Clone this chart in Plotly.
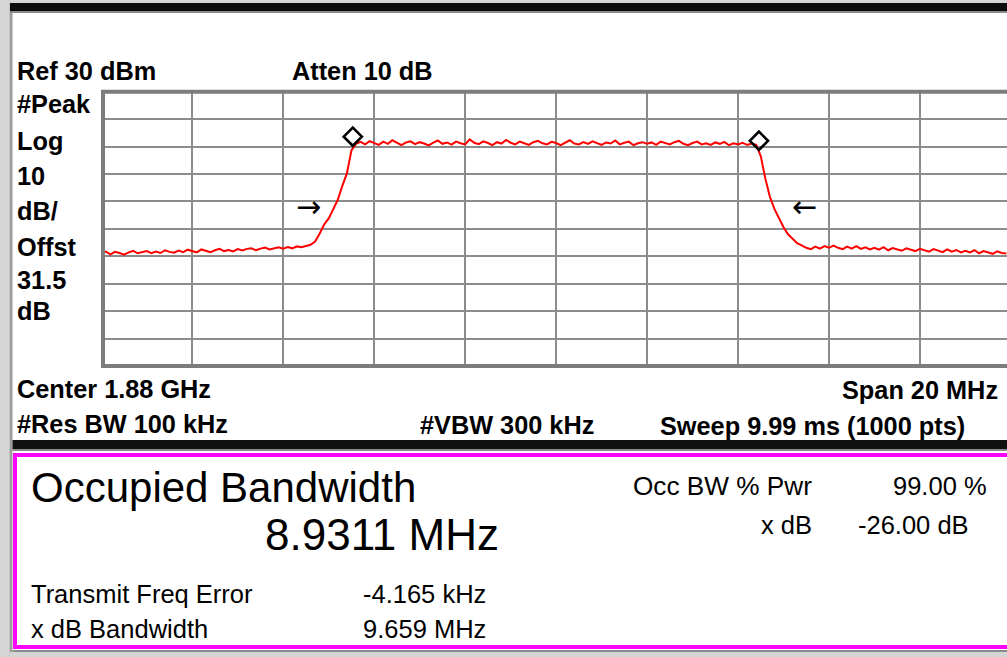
import plotly.graph_objects as go

W, H = 1007, 657

# ---------------- data (frequency offset from 1.88 GHz centre, MHz ; level dBm) ----------------
freq_mhz = [
    -10.0, -9.9, -9.8, -9.7, -9.6, -9.5, -9.4, -9.3, -9.2, -9.1,
    -9.0, -8.9, -8.8, -8.7, -8.6, -8.5, -8.4, -8.3, -8.2, -8.1,
    -8.0, -7.9, -7.8, -7.7, -7.6, -7.5, -7.4, -7.3, -7.2, -7.1,
    -7.0, -6.9, -6.8, -6.7, -6.6, -6.5, -6.4, -6.3, -6.2, -6.1,
    -6.0, -5.9, -5.8, -5.7, -5.6, -5.5, -5.4, -5.3, -5.2, -5.1,
    -5.0, -4.9, -4.8, -4.7, -4.6, -4.5, -4.4, -4.3, -4.2, -4.1,
    -4.0, -3.9, -3.8, -3.7, -3.6, -3.5, -3.4, -3.3, -3.2, -3.1,
    -3.0, -2.9, -2.8, -2.7, -2.6, -2.5, -2.4, -2.3, -2.2, -2.1,
    -2.0, -1.9, -1.8, -1.7, -1.6, -1.5, -1.4, -1.3, -1.2, -1.1,
    -1.0, -0.9, -0.8, -0.7, -0.6, -0.5, -0.4, -0.3, -0.2, -0.1,
    0.0, 0.1, 0.2, 0.3, 0.4, 0.5, 0.6, 0.7, 0.8, 0.9,
    1.0, 1.1, 1.2, 1.3, 1.4, 1.5, 1.6, 1.7, 1.8, 1.9,
    2.0, 2.1, 2.2, 2.3, 2.4, 2.5, 2.6, 2.7, 2.8, 2.9,
    3.0, 3.1, 3.2, 3.3, 3.4, 3.5, 3.6, 3.7, 3.8, 3.9,
    4.0, 4.1, 4.2, 4.3, 4.4, 4.5, 4.6, 4.7, 4.8, 4.9,
    5.0, 5.1, 5.2, 5.3, 5.4, 5.5, 5.6, 5.7, 5.8, 5.9,
    6.0, 6.1, 6.2, 6.3, 6.4, 6.5, 6.6, 6.7, 6.8, 6.9,
    7.0, 7.1, 7.2, 7.3, 7.4, 7.5, 7.6, 7.7, 7.8, 7.9,
    8.0, 8.1, 8.2, 8.3, 8.4, 8.5, 8.6, 8.7, 8.8, 8.9,
    9.0, 9.1, 9.2, 9.3, 9.4, 9.5, 9.6, 9.7, 9.8, 9.9,
]

level_dbm = [
    -28.9, -28.3, -29.3, -28.4, -28.8, -29.4, -28.6, -28.0, -28.9, -28.5,
    -28.1, -28.9, -28.3, -28.8, -27.8, -28.4, -28.7, -27.9, -28.5, -27.6,
    -28.2, -28.6, -27.5, -28.1, -28.5, -27.8, -27.3, -28.1, -27.7, -28.2,
    -27.4, -27.9, -27.3, -27.1, -27.8, -27.2, -26.8, -27.5, -27.0, -26.7,
    -27.2, -26.6, -27.1, -26.4, -26.7, -26.2, -25.8, -24.6, -21.8, -18.4,
    -16.2, -12.8, -9.4, -4.3, 0.2, 8.6, 11.0, 11.7, 10.8, 12.0,
    11.2, 10.6, 11.8, 11.0, 12.3, 11.3, 10.5, 11.5, 11.9, 10.9,
    11.6, 11.1, 10.4, 11.4, 12.2, 11.0, 11.5, 10.7, 11.8, 11.2,
    10.8, 12.6, 11.4, 10.9, 11.9, 11.3, 10.5, 11.6, 11.1, 12.4,
    11.4, 10.8, 11.8, 11.2, 10.6, 11.6, 12.1, 11.2, 10.8, 11.7,
    11.3, 10.5, 11.5, 12.3, 11.1, 10.8, 11.6, 11.0, 11.9, 11.3,
    10.6, 11.5, 11.1, 12.2, 10.8, 11.4, 11.8, 10.5, 11.2, 11.6,
    11.0, 11.5, 10.6, 11.8, 11.2, 10.8, 11.6, 12.1, 11.0, 10.5,
    11.3, 11.8, 10.8, 11.2, 10.6, 11.5, 11.0, 11.7, 10.5, 11.2,
    10.8, 11.4, 10.6, 11.1, 10.6, 6.5, -1.6, -8.3, -12.7, -16.2,
    -19.4, -22.0, -23.8, -25.2, -26.0, -26.9, -27.4, -26.5, -27.2, -26.3,
    -26.9, -26.1, -26.9, -27.4, -26.5, -27.2, -26.3, -27.3, -26.7, -27.5,
    -26.9, -27.6, -26.7, -27.8, -27.0, -27.4, -28.0, -27.1, -27.6, -28.1,
    -27.3, -27.8, -28.3, -27.4, -28.0, -28.5, -27.5, -28.3, -27.7, -28.6,
    -28.0, -28.6, -27.8, -28.9, -28.1, -28.6, -29.1, -28.2, -28.8, -29.0,
]

marker_freq = [-4.47, 4.46]
marker_level = [13.6, 12.1]

obw_arrow_freq = [-5.44, 5.47]
obw_arrow_level = [-12.8, -12.8]
obw_arrow_text = ["\u2192", "\u2190"]

ref_level = 30
db_per_div = 10
x_ticks_mhz = [-10, -8, -6, -4, -2, 0, 2, 4, 6, 8]

# ---------------- geometry helpers (pixel -> paper) ----------------
def PX(x):
    return x / W


def PY(y):
    return 1 - y / H


grid_left, grid_top, grid_bottom = 101.3, 91.7, 366.0
px_per_mhz = 45.48

fig = go.Figure()

fig.add_trace(go.Scatter(
    x=freq_mhz, y=level_dbm, mode="lines",
    line=dict(color="#ff0000", width=2.0),
    hoverinfo="skip", showlegend=False,
))
fig.add_trace(go.Scatter(
    x=marker_freq, y=marker_level, mode="markers",
    marker=dict(symbol="diamond-open", size=14, color="black",
                line=dict(width=2.6, color="black")),
    hoverinfo="skip", showlegend=False,
))
fig.add_trace(go.Scatter(
    x=obw_arrow_freq, y=obw_arrow_level, mode="text", text=obw_arrow_text,
    textposition="middle center",
    textfont=dict(family="DejaVu Sans", size=30, color="black"),
    hoverinfo="skip", showlegend=False,
))

fig.update_xaxes(
    domain=[PX(grid_left), 1.0],
    range=[-10, -10 + (W - grid_left) / px_per_mhz],
    tickmode="array", tickvals=x_ticks_mhz, showticklabels=False, ticks="",
    showgrid=True, gridcolor="#8c8c8c", gridwidth=2.3, zeroline=False,
    showline=False, fixedrange=True,
)
fig.update_yaxes(
    domain=[PY(grid_bottom), PY(grid_top)],
    range=[ref_level - 10 * db_per_div, ref_level],
    tick0=ref_level, dtick=db_per_div, showticklabels=False, ticks="",
    showgrid=True, gridcolor="#8c8c8c", gridwidth=2.3, zeroline=False,
    showline=False, fixedrange=True,
)

shapes = []


def rect(x0, y0, x1, y1, fill=None, line_color=None, lw=0, layer="above"):
    shapes.append(dict(
        type="rect", xref="paper", yref="paper",
        x0=PX(x0), x1=PX(x1), y0=PY(y1), y1=PY(y0),
        fillcolor=fill if fill else "rgba(0,0,0,0)",
        line=dict(color=line_color if line_color else "rgba(0,0,0,0)", width=lw),
        layer=layer,
    ))


# window frame
rect(0, 0, 9.5, H, fill="#d6d6d6")
rect(9.5, 0, 12.5, H, fill="#9c9c9c")
rect(9.5, 0, W, 3, fill="#d6d6d6")
rect(10, 3, W, 11, fill="#0c0c0c")
rect(10, 11, W, 13, fill="#8a8a8a")
rect(12.5, 440, W, 449, fill="#101010")
rect(12.5, 449, W, 451, fill="#8a8a8a")
rect(12.5, 650, W, 652, fill="#8a8a8a")
rect(9.5, 652, W, H, fill="#d6d6d6")
# magenta results box
rect(15, 455, W + 20, 647, line_color="#ff00ff", lw=4)
# graticule border
rect(103, grid_top, W + 20, grid_bottom, line_color="#7c7c7c", lw=4)

annotations = []


def label(text, x, y, size, bold=False, anchor="left"):
    annotations.append(dict(
        x=PX(x), y=PY(y), xref="paper", yref="paper",
        text=("<b>%s</b>" % text) if bold else text,
        showarrow=False, xanchor=anchor, yanchor="middle",
        font=dict(family="Liberation Sans, Arial, sans-serif", size=size, color="#000000"),
        borderpad=0,
    ))


B = 25.3
label("Ref 30 dBm", 16, 71, B, True)
label("Atten 10 dB", 291, 71, B, True)
for txt, yy in [("#Peak", 104), ("Log", 141), ("10", 176), ("dB/", 211),
                ("Offst", 247), ("31.5", 280), ("dB", 311)]:
    label(txt, 16, yy, B, True)
label("Center 1.88 GHz", 16, 389, B, True)
label("Span 20 MHz", 999, 390, B, True, anchor="right")
label("#Res BW 100 kHz", 16, 424, B, True)
label("#VBW 300 kHz", 419, 425, B, True)
label("Sweep 9.99 ms (1000 pts)", 659, 426, B, True)

S = 25.5
label("Occupied Bandwidth", 30, 487, 42)
label("8.9311 MHz", 264, 534, 44)
label("Transmit Freq Error", 30, 594, S)
label("x dB Bandwidth", 30, 629, S)
label("-4.165 kHz", 362, 594, S)
label("9.659 MHz", 362, 629, S)
label("Occ BW % Pwr", 632, 486, 26.2)
label("99.00 %", 892, 486, S)
label("x dB", 813, 525, S, anchor="right")
label("-26.00 dB", 857, 525, S)

fig.update_layout(
    width=W, height=H, autosize=False,
    margin=dict(l=0, r=0, t=0, b=0, pad=0),
    paper_bgcolor="white", plot_bgcolor="white",
    shapes=shapes, annotations=annotations,
    showlegend=False, hovermode=False,
)

fig.write_html(
    "out.html",
    config={"displayModeBar": False},
    post_script="document.body.style.margin='0px';document.body.style.padding='0px';document.body.style.overflow='hidden';",
)
